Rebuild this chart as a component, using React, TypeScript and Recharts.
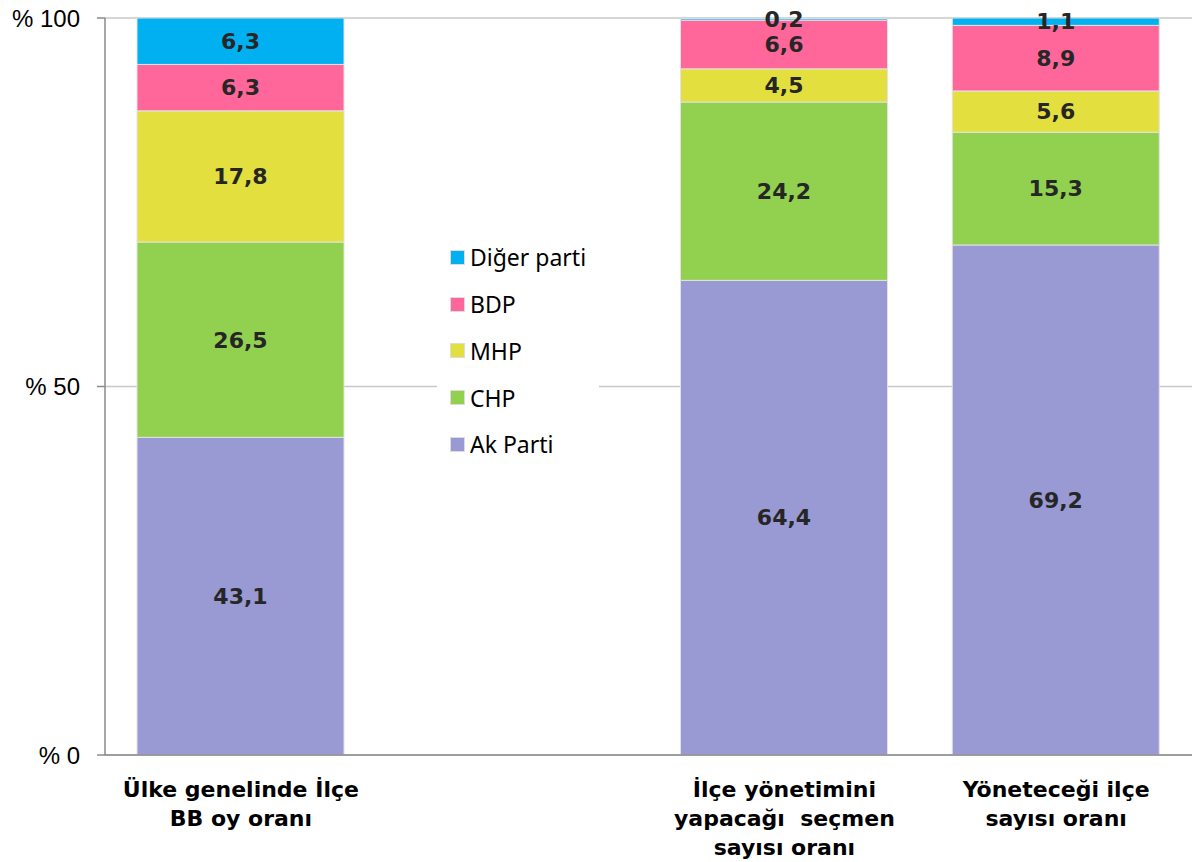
import { BarChart, Bar, XAxis, YAxis, CartesianGrid, Legend, LabelList } from 'recharts'

const CATEGORIES = [
  'Ülke genelinde İlçe\nBB oy oranı',
  '',
  'İlçe yönetimini\nyapacağı  seçmen\nsayısı oranı',
  'Yöneteceği ilçe\nsayısı oranı',
]

const AK_PARTI = [43.1, null, 64.4, 69.2]
const CHP = [26.5, null, 24.2, 15.3]
const MHP = [17.8, null, 4.5, 5.6]
const BDP = [6.3, null, 6.6, 8.9]
const DIGER = [6.3, null, 0.2, 1.1]

const Y_TICKS = [0, 50, 100]

// bottom-to-top stacking order
const SERIES = [
  { key: 'akParti', name: 'Ak Parti', color: '#9999d4', values: AK_PARTI },
  { key: 'chp', name: 'CHP', color: '#92d050', values: CHP },
  { key: 'mhp', name: 'MHP', color: '#e2df3f', values: MHP },
  { key: 'bdp', name: 'BDP', color: '#ff6699', values: BDP },
  { key: 'diger', name: 'Diğer parti', color: '#00b0f0', values: DIGER },
]

const data = CATEGORIES.map((name, i) => {
  const row: Record<string, string | number | null> = { name }
  SERIES.forEach((s) => {
    row[s.key] = s.values[i]
  })
  return row
})

const AXIS_GREY = '#8a8a8a'
const LABEL_FONT = '"DejaVu Sans", sans-serif'
const TEXT_FONT = '"Liberation Sans", Arial, sans-serif'

function CategoryTick({ x, y, payload }: any) {
  const lines = String(payload.value).split('\n')
  return (
    <text
      x={x}
      y={y + 34}
      textAnchor="middle"
      fontFamily={LABEL_FONT}
      fontWeight="bold"
      fontSize={22}
      fill="#000"
    >
      {lines.map((line, i) => (
        <tspan key={i} x={x} dy={i === 0 ? 0 : 29} style={{ whiteSpace: 'pre' }}>
          {line}
        </tspan>
      ))}
    </text>
  )
}

// legend lists the series top-to-bottom, i.e. reverse of stacking order
function LegendBox() {
  const items = [...SERIES].reverse()
  return (
    <div style={{ background: '#fff', padding: '8px 0 8px 13px' }}>
      {items.map((s) => (
        <div
          key={s.key}
          style={{
            display: 'flex',
            alignItems: 'center',
            height: 46.75,
            fontFamily: '"Noto Sans", sans-serif',
            fontSize: 23,
            color: '#000',
          }}
        >
          <span
            style={{
              display: 'inline-block',
              width: 15,
              height: 15,
              background: s.color,
              boxSizing: 'border-box',
              border: '1px solid #dcdcdc',
              marginRight: 5,
            }}
          />
          {s.name}
        </div>
      ))}
    </div>
  )
}

const fmt = (v: any) => (v == null ? '' : String(v).replace('.', ','))

export default function App() {
  return (
    <div style={{ position: 'absolute', left: 0, top: 0, width: 1192, height: 862, background: '#fff' }}>
      <BarChart
        width={1192}
        height={862}
        data={data}
        margin={{ top: 18, right: 0, bottom: 0, left: 0 }}
        barSize={207}
      >
        <CartesianGrid vertical={false} stroke="#c8c8c8" strokeWidth={1.5} />
        <XAxis
          dataKey="name"
          height={107}
          axisLine={{ stroke: AXIS_GREY, strokeWidth: 1.5 }}
          tickLine={false}
          tick={<CategoryTick />}
          interval={0}
        />
        <YAxis
          width={105}
          domain={[0, 100]}
          allowDataOverflow
          ticks={Y_TICKS}
          tickFormatter={(v) => `% ${v}`}
          axisLine={{ stroke: AXIS_GREY, strokeWidth: 1.5 }}
          tickLine={{ stroke: AXIS_GREY, strokeWidth: 1.5 }}
          tickSize={8}
          tickMargin={17}
          tick={{ fill: '#000', fontSize: 24, fontFamily: TEXT_FONT }}
        />
        <Legend
          layout="vertical"
          align="center"
          verticalAlign="middle"
          content={<LegendBox />}
          wrapperStyle={{ position: 'absolute', left: 437, top: 226, width: 162 }}
        />
        {SERIES.map((s) => (
          <Bar
            key={s.key}
            dataKey={s.key}
            name={s.name}
            stackId="a"
            fill={s.color}
            stroke="#e2e2e2"
            strokeWidth={1}
            isAnimationActive={false}
          >
            <LabelList
              dataKey={s.key}
              position="center"
              formatter={fmt}
              fill="#262626"
              fontSize={22}
              fontWeight="bold"
              fontFamily={LABEL_FONT}
            />
          </Bar>
        ))}
      </BarChart>
    </div>
  )
}
